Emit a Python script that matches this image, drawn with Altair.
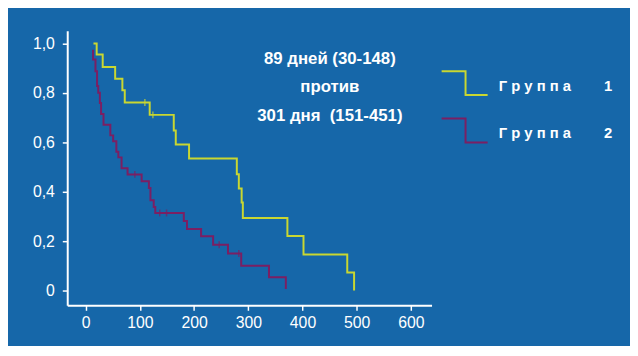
import altair as alt
import pandas as pd

NB = "\u00a0"

# Group names (legend text is shown letter-spaced)
group_labels = [NB.join(list("Группа")) + NB * 8 + "1",
                NB.join(list("Группа")) + NB * 8 + "2"]
group_colors = ["#c9d731", "#7b1f63"]

# Group 1 (yellow) Kaplan-Meier steps: time of step, survival after step
g1_time = [14.4, 20.3, 31.4, 54.4, 67.7, 72.1, 118.1, 162.5, 166.2, 190.7,
           278.8, 282.5, 287.7, 289.9, 372.1, 401.8, 482.5, 495.1]
g1_surv = [1.0, 0.955, 0.905, 0.857, 0.811, 0.761, 0.711, 0.648, 0.591, 0.534,
           0.471, 0.413, 0.356, 0.294, 0.221, 0.146, 0.073, 0.0]
g1_cens_time = [109.2, 124.0]
g1_cens_surv = [0.761, 0.711]

# Group 2 (purple)
g2_time = [13.6, 13.6, 18.1, 21.0, 23.2, 26.2, 28.4, 32.9, 45.5, 50.7,
           56.6, 60.3, 66.2, 77.3, 103.2, 116.6, 119.5, 125.5, 128.4, 181.0,
           186.9, 212.9, 235.1, 262.5, 286.9, 338.1, 369.2]
g2_surv = [0.975, 0.935, 0.888, 0.828, 0.801, 0.759, 0.715, 0.671, 0.628, 0.604,
           0.562, 0.539, 0.495, 0.470, 0.442, 0.415, 0.365, 0.338, 0.314, 0.281,
           0.249, 0.220, 0.185, 0.150, 0.100, 0.054, 0.006]
g2_cens_time = [90.7, 136.6, 149.2, 246.2, 282.5]
g2_cens_surv = [0.470, 0.314, 0.314, 0.185, 0.150]

x_ticks = [0, 100, 200, 300, 400, 500, 600]
y_ticks = [0, 0.2, 0.4, 0.6, 0.8, 1.0]

note_lines = ["89 дней (30-148)", "против", "301 дня" + NB + NB + "(151-451)"]

curves = pd.concat([
    pd.DataFrame({"t": g1_time, "s": g1_surv, "g": group_labels[0],
                  "i": range(len(g1_time))}),
    pd.DataFrame({"t": g2_time, "s": g2_surv, "g": group_labels[1],
                  "i": range(len(g2_time))}),
])
cens = pd.concat([
    pd.DataFrame({"t": g1_cens_time, "s": g1_cens_surv, "g": group_labels[0]}),
    pd.DataFrame({"t": g2_cens_time, "s": g2_cens_surv, "g": group_labels[1]}),
])

FONT = "Liberation Sans"
BG = "#1667a9"

xscale = alt.Scale(domain=[-34, 638], nice=False, zero=False)
yscale = alt.Scale(domain=[-0.06, 1.051], nice=False, zero=False)

lines = alt.Chart(curves).mark_line(interpolate="step-after", strokeWidth=2).encode(
    x=alt.X("t:Q", scale=xscale, title=None,
            axis=alt.Axis(values=x_ticks, labelPadding=4)),
    y=alt.Y("s:Q", scale=yscale, title=None,
            axis=alt.Axis(values=y_ticks, labelPadding=8,
                          labelExpr="datum.value == 0 ? '0' : replace(format(datum.value, '.1f'), '.', ',')")),
    color=alt.Color("g:N", scale=alt.Scale(domain=group_labels, range=group_colors),
                    legend=alt.Legend(
        orient="none", legendX=378, legendY=31, title=None,
        symbolType="M -1 -0.63 H 0.04 V 0.41 H 1",
        symbolSize=2172, symbolStrokeWidth=2, symbolFillColor="transparent",
        labelFont=FONT, labelFontSize=15, labelFontWeight="bold",
        labelColor="white", labelOffset=10, rowPadding=9)),
    order=alt.Order("i:Q"),
)

ticks = alt.Chart(cens).mark_tick(orient="vertical", size=7, thickness=1.5).encode(
    x=alt.X("t:Q", scale=xscale),
    y=alt.Y("s:Q", scale=yscale),
    color=alt.Color("g:N", scale=alt.Scale(domain=group_labels, range=group_colors),
                    legend=None),
)

note = alt.Chart(pd.DataFrame({"k": [0]})).mark_text(
    font=FONT, fontSize=17, fontWeight="bold", color="white",
    align="center", baseline="middle", lineHeight=28.8,
).encode(x=alt.value(266), y=alt.value(28.5), text=alt.value(note_lines))

chart = alt.layer(lines, ticks, note).resolve_scale(color="independent").properties(
    width=369, height=278, background=BG, autosize="none",
    padding={"left": 60, "top": 21, "right": 201, "bottom": 39},
).configure_view(stroke=None).configure_axis(
    domainColor="white", domainWidth=2, tickColor="white", tickWidth=1.5,
    tickSize=5, labelColor="white", labelFont=FONT, labelFontSize=16,
    grid=False,
)

chart.save("out.html", embed_options={"renderer": "svg", "actions": False})
